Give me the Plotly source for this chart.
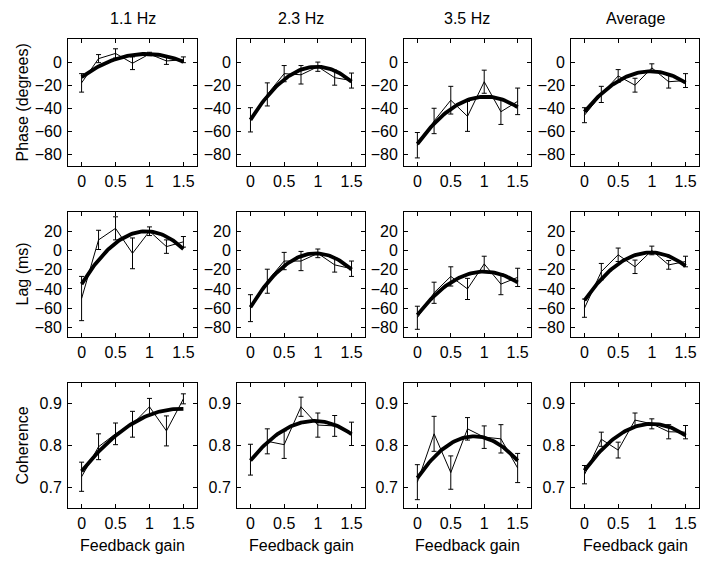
import numpy as np
import plotly.graph_objects as go

gain = [0, 0.25, 0.5, 0.75, 1.0, 1.25, 1.5]
col_titles = ["1.1 Hz", "2.3 Hz", "3.5 Hz", "Average"]
row_titles = ["Phase (degrees)", "Lag (ms)", "Coherence"]

# Phase (degrees)
phase_11 = [-18, 3, 7.5, -1, 7, 1, 2]
phase_11_err = [8, 3.5, 4, 5.5, 1.5, 3, 2.5]
phase_23 = [-50, -28, -10, -11, -4, -13.5, -16]
phase_23_err = [10.5, 10, 7, 8, 4, 6.5, 6.5]
phase_35 = [-72, -51, -33, -47, -17, -43, -34]
phase_35_err = [11, 11, 12, 13, 10, 11, 11.5]
phase_avg = [-46, -28, -12, -20, -5, -17, -16]
phase_avg_err = [6.5, 7, 5.5, 6, 3.5, 5.5, 6]

# Lag (ms)
lag_11 = [-50, 11, 23, -3, 20, 4, 9]
lag_11_err = [23, 10, 12, 16, 4.5, 7, 5.5]
lag_23 = [-60, -32, -11, -11, -3, -15, -19]
lag_23_err = [14, 12.5, 9, 10, 4.5, 7.5, 8]
lag_35 = [-70, -44, -27, -40, -14, -35, -28]
lag_35_err = [12, 11, 10, 11, 8, 11, 9.5]
lag_avg = [-60, -22, -4.5, -17, 0, -15, -11.5]
lag_avg_err = [9.5, 8.5, 7, 7, 4.5, 4.5, 5.5]

# Coherence
coh_11 = [0.725, 0.797, 0.828, 0.851, 0.893, 0.835, 0.912]
coh_11_err = [0.035, 0.031, 0.026, 0.031, 0.02, 0.036, 0.012]
coh_23 = [0.766, 0.81, 0.802, 0.893, 0.849, 0.847, 0.828]
coh_23_err = [0.037, 0.03, 0.033, 0.023, 0.029, 0.025, 0.028]
coh_35 = [0.712, 0.828, 0.735, 0.84, 0.82, 0.816, 0.746]
coh_35_err = [0.042, 0.042, 0.04, 0.027, 0.027, 0.034, 0.035]
coh_avg = [0.73, 0.815, 0.789, 0.861, 0.852, 0.833, 0.832]
coh_avg_err = [0.022, 0.017, 0.019, 0.017, 0.012, 0.017, 0.016]

# Quadratic fit coefficients [a0, a1, a2] (y = a0 + a1*x + a2*x^2)
fit_phase = [[-13, 42.2, -22.2], [-50, 93.9, -47.9], [-71, 80.4, -39.4], [-43, 71.4, -36.4]]
fit_lag = [[-35, 115.7, -60.9], [-59, 115.4, -59.5], [-67, 90, -45], [-52, 101.9, -52]]
fit_coh = [[0.738, 0.2068, -0.0713], [0.764, 0.2, -0.1053], [0.722, 0.2353, -0.1384], [0.740, 0.224, -0.112]]

means = [[phase_11, phase_23, phase_35, phase_avg],
         [lag_11, lag_23, lag_35, lag_avg],
         [coh_11, coh_23, coh_35, coh_avg]]
errs = [[phase_11_err, phase_23_err, phase_35_err, phase_avg_err],
        [lag_11_err, lag_23_err, lag_35_err, lag_avg_err],
        [coh_11_err, coh_23_err, coh_35_err, coh_avg_err]]
fits = [fit_phase, fit_lag, fit_coh]

y_ranges = [[-90, 20], [-90, 40], [0.65, 0.95]]
y_ticks = [[-80, -60, -40, -20, 0], [-80, -60, -40, -20, 0, 20], [0.7, 0.8, 0.9]]
y_ticktext = [["\u221280", "\u221260", "\u221240", "\u221220", "0"],
              ["\u221280", "\u221260", "\u221240", "\u221220", "0", "20"],
              ["0.7", "0.8", "0.9"]]

# page body has an 8px default margin; lay out in page pixels and shift
OFF = 8
W, H = 720 - OFF, 574 - OFF
col_px = [(68, 197), (237, 365), (404, 531), (571, 699)]
row_px = [(39, 166), (212, 337), (383, 508)]


def fx(px):
    return (px - OFF) / W


def fy(py):
    return 1 - (py - OFF) / H


FONT = "Liberation Sans, Arial, Helvetica, sans-serif"
fig = go.Figure()
xfit = np.linspace(0, 1.5, 61)

layout = dict(
    width=W, height=H, margin=dict(l=0, r=0, t=0, b=0),
    paper_bgcolor="white", plot_bgcolor="rgba(0,0,0,0)", showlegend=False,
    font=dict(family=FONT, size=16, color="black"),
)
annotations = []

k = 0
for r in range(3):
    for c in range(4):
        k += 1
        xa = "x" if k == 1 else f"x{k}"
        ya = "y" if k == 1 else f"y{k}"
        fig.add_trace(go.Scatter(
            x=gain, y=means[r][c], mode="lines",
            line=dict(color="black", width=1),
            error_y=dict(type="data", array=errs[r][c], color="black", thickness=1, width=2.5),
            xaxis=xa, yaxis=ya))
        a0, a1, a2 = fits[r][c]
        fig.add_trace(go.Scatter(
            x=xfit, y=a0 + a1 * xfit + a2 * xfit ** 2, mode="lines",
            line=dict(color="black", width=3.8),
            xaxis=xa, yaxis=ya))
        x0, x1 = col_px[c]
        y0, y1 = row_px[r]
        axkw = dict(showline=True, mirror="allticks", linecolor="black", linewidth=1,
                    ticks="inside", ticklen=4, tickcolor="black", showgrid=False,
                    zeroline=False, ticklabeloverflow="allow")
        layout["xaxis" + ("" if k == 1 else str(k))] = dict(
            domain=[fx(x0), fx(x1)], range=[-0.2, 1.7], anchor=ya,
            tickvals=[0, 0.5, 1, 1.5], ticktext=["0", "0.5", "1", "1.5"],
            tickfont=dict(family=FONT, size=16, color="black"),
            ticklabelstandoff=1, **axkw)
        layout["yaxis" + ("" if k == 1 else str(k))] = dict(
            domain=[fy(y1), fy(y0)], range=y_ranges[r], anchor=xa,
            tickvals=y_ticks[r], ticktext=y_ticktext[r],
            tickfont=dict(family=FONT, size=16, color="black"),
            ticklabelstandoff=2, **axkw)

for c in range(4):
    x0, x1 = col_px[c]
    annotations.append(dict(text=col_titles[c], x=fx((x0 + x1) / 2), y=fy(18),
                            xref="paper", yref="paper", showarrow=False,
                            font=dict(size=16), xanchor="center", yanchor="middle"))
    annotations.append(dict(text="Feedback gain", x=fx((x0 + x1) / 2), y=fy(545),
                            xref="paper", yref="paper", showarrow=False,
                            font=dict(size=16), xanchor="center", yanchor="middle"))
for r in range(3):
    y0, y1 = row_px[r]
    annotations.append(dict(text=row_titles[r], x=fx(22), y=fy((y0 + y1) / 2),
                            xref="paper", yref="paper", showarrow=False, textangle=-90,
                            font=dict(size=16), xanchor="center", yanchor="middle"))
layout["annotations"] = annotations
fig.update_layout(**layout)
fig.write_html("out.html")
